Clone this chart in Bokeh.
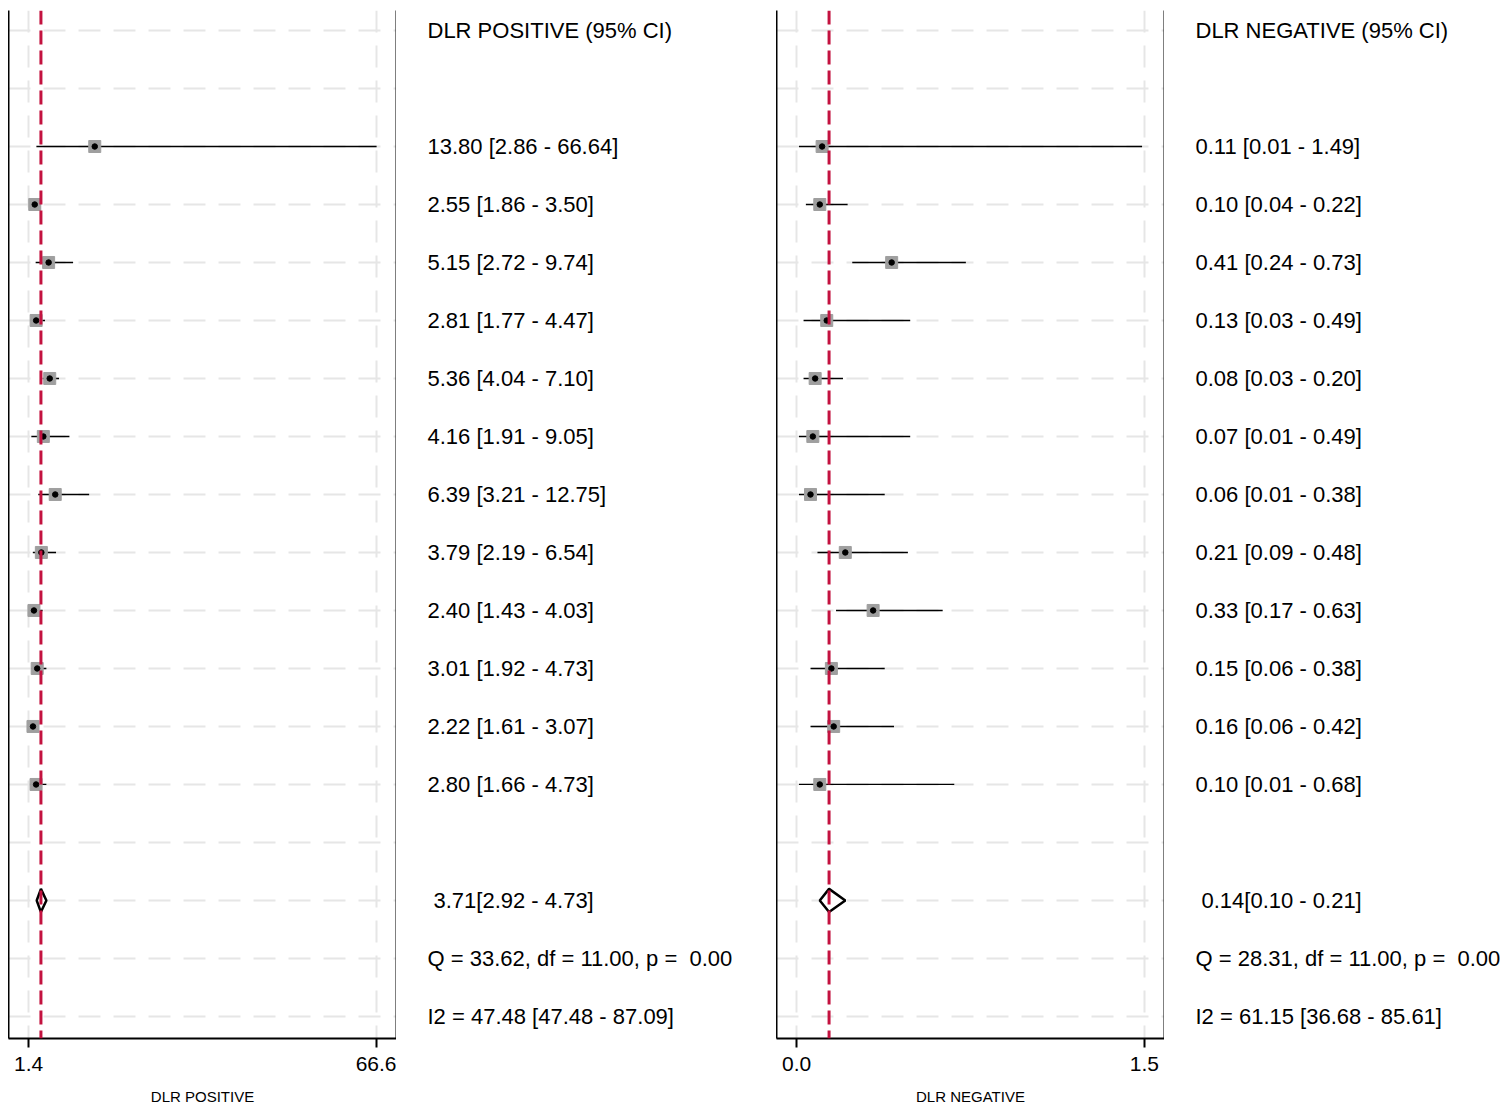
from bokeh.plotting import figure
from bokeh.layouts import row
from bokeh.models import Range1d, LinearAxis, FixedTicker, Span, ColumnDataSource, Grid
from bokeh.core.properties import value
from bokeh.embed import file_html
from bokeh.resources import INLINE

# ---------------- data ----------------
pos_est = [13.80, 2.55, 5.15, 2.81, 5.36, 4.16, 6.39, 3.79, 2.40, 3.01, 2.22, 2.80]
pos_lo = [2.86, 1.86, 2.72, 1.77, 4.04, 1.91, 3.21, 2.19, 1.43, 1.92, 1.61, 1.66]
pos_hi = [66.64, 3.50, 9.74, 4.47, 7.10, 9.05, 12.75, 6.54, 4.03, 4.73, 3.07, 4.73]
pos_pooled = [3.71, 2.92, 4.73]
pos_q = "Q = 33.62, df = 11.00, p = \u00a00.00"
pos_i2 = "I2 = 47.48 [47.48 - 87.09]"

neg_est = [0.11, 0.10, 0.41, 0.13, 0.08, 0.07, 0.06, 0.21, 0.33, 0.15, 0.16, 0.10]
neg_lo = [0.01, 0.04, 0.24, 0.03, 0.03, 0.01, 0.01, 0.09, 0.17, 0.06, 0.06, 0.01]
neg_hi = [1.49, 0.22, 0.73, 0.49, 0.20, 0.49, 0.38, 0.48, 0.63, 0.38, 0.42, 0.68]
neg_pooled = [0.14, 0.10, 0.21]
neg_q = "Q = 28.31, df = 11.00, p = \u00a00.00"
neg_i2 = "I2 = 61.15 [36.68 - 85.61]"

pos_ticks = [1.4, 66.6]
neg_ticks = [0.0, 1.5]
pos_tick_labels = {1.4: "1.4", 66.6: "66.6"}
neg_tick_labels = {0.0: "0.0", 1.5: "1.5"}

# ---------------- layout constants ----------------
FONT = "Liberation Sans"
N_ROWS = 18
STUDY_ROWS = list(range(2, 14))
POOL_ROW, Q_ROW, I2_ROW = 15, 16, 17
H = 1102
TOP, BOTTOM = 0, 74
y_range = Range1d(17.38, -0.345)

RED = "#c3123f"
GRIDC = "#e6e6e6"


def panel(est, lo, hi, pooled, xr, ticks, tick_labels, label, width):
    p = figure(width=width, height=H, output_backend="svg", toolbar_location=None,
               x_range=Range1d(*xr), y_range=y_range,
               x_axis_location=None, y_axis_location=None,
               min_border_top=TOP, min_border_bottom=BOTTOM,
               min_border_left=0, min_border_right=0)
    p.outline_line_color = None
    p.background_fill_color = "white"
    p.border_fill_color = "white"
    for g in p.grid:
        g.visible = False

    # gridlines
    vg = Grid(dimension=0, ticker=FixedTicker(ticks=ticks), grid_line_color=GRIDC,
              grid_line_width=2, grid_line_dash="22 13")
    hg = Grid(dimension=1, ticker=FixedTicker(ticks=list(range(N_ROWS))), grid_line_color=GRIDC,
              grid_line_width=2, grid_line_dash="22 13")
    p.add_layout(vg)
    p.add_layout(hg)

    # frame sides via axes
    for side in ("left", "right"):
        ax = LinearAxis(ticker=FixedTicker(ticks=[]), major_label_text_font_size="0px",
                        major_tick_line_color=None, minor_tick_line_color=None,
                        major_label_standoff=0, axis_line_width=2, axis_line_color="black")
        p.add_layout(ax, side)

    xa = LinearAxis(ticker=FixedTicker(ticks=ticks), major_label_overrides=tick_labels,
                    axis_label=label, axis_line_width=2, axis_line_color="black",
                    major_tick_line_width=2, major_tick_in=0, major_tick_out=9,
                    minor_tick_line_color=None,
                    major_label_text_font=FONT, major_label_text_font_size="21px",
                    major_label_text_color="black", major_label_standoff=9,
                    axis_label_text_font=FONT, axis_label_text_font_size="15px",
                    axis_label_text_color="black",
                    axis_label_text_font_style="normal", axis_label_standoff=14)
    p.add_layout(xa, "below")

    # pooled reference line
    p.add_layout(Span(location=pooled[0], dimension="height", line_color=RED,
                      line_width=3, line_dash="14 6"))

    src = ColumnDataSource(dict(y=STUDY_ROWS, est=est, lo=lo, hi=hi))
    p.segment(x0="lo", x1="hi", y0="y", y1="y", source=src, line_color="black", line_width=1.3)
    p.scatter(x="est", y="y", source=src, marker="square", size=12,
              fill_color="#9f9f9f", line_color="#9f9f9f")
    p.scatter(x="est", y="y", source=src, marker="circle", size=5.5,
              fill_color="black", line_color="black")

    # pooled diamond
    e, l, h = pooled
    d = 0.2
    p.patch(x=[l, e, h, e], y=[POOL_ROW, POOL_ROW - d, POOL_ROW, POOL_ROW + d],
            fill_color="white", line_color="black", line_width=2.5)
    return p


def fmt(v):
    return f"{v:.2f}"


def text_panel(title, est, lo, hi, pooled, q, i2, width, offset):
    t = figure(width=width, height=H, output_backend="svg", toolbar_location=None,
               x_range=Range1d(0, 1), y_range=y_range,
               x_axis_location=None, y_axis_location=None,
               min_border_top=TOP, min_border_bottom=BOTTOM,
               min_border_left=0, min_border_right=0)
    t.outline_line_color = None
    t.grid.visible = False
    rows_ = [0] + STUDY_ROWS + [POOL_ROW, Q_ROW, I2_ROW]
    labels = [title] + [f"{fmt(e)} [{fmt(a)} - {fmt(b)}]" for e, a, b in zip(est, lo, hi)] + \
             [f" {fmt(pooled[0])}[{fmt(pooled[1])} - {fmt(pooled[2])}]", q, i2]
    offs = [offset] * (len(labels) - 3) + [offset + 6, offset, offset]
    src = ColumnDataSource(dict(x=[0] * len(labels), y=rows_, t=labels, o=offs))
    t.text(x="x", y="y", text="t", x_offset="o", source=src,
           text_font=value(FONT), text_font_size="22px", text_color="black",
           text_baseline="middle", text_align="left")
    return t


p1 = panel(pos_est, pos_lo, pos_hi, pos_pooled, (-2.37, 70.37), pos_ticks, pos_tick_labels,
           "DLR POSITIVE", 388)
t1 = text_panel("DLR POSITIVE (95% CI)", pos_est, pos_lo, pos_hi, pos_pooled, pos_q, pos_i2, 380, 31)
p2 = panel(neg_est, neg_lo, neg_hi, neg_pooled, (-0.0867, 1.5867), neg_ticks, neg_tick_labels,
           "DLR NEGATIVE", 388)
t2 = text_panel("DLR NEGATIVE (95% CI)", neg_est, neg_lo, neg_hi, neg_pooled, neg_q, neg_i2, 339, 31)

layout = row(p1, t1, p2, t2, spacing=0, margin=(10, 0, 0, 8))
open("out.html", "w").write(file_html(layout, INLINE))
